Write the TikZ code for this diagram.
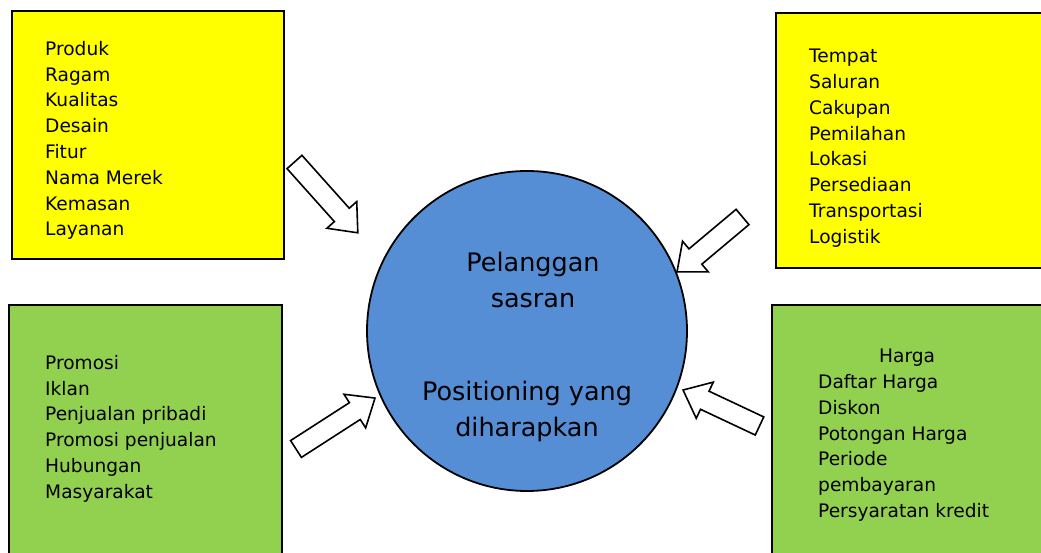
\documentclass[tikz,border=0pt]{standalone}
\usepackage{fontspec}
\setmainfont{DejaVu Sans}
\usetikzlibrary{positioning}
\definecolor{kuning}{HTML}{FFFF00}
\definecolor{hijau}{HTML}{92D050}
\definecolor{biru}{HTML}{558ED5}
\tikzset{
	kotak/.style={draw, line width=1.8pt, anchor=north west, inner sep=0pt},
	isi/.style={anchor=north west, align=left, inner sep=0pt, font=\fontsize{18.6}{25.8}\selectfont},
	blokpanah/.pic={\draw[line width=1.6pt, fill=white, line join=miter] (0,-10) -- ({#1-24},-10) -- ({#1-24},-20) -- (#1,0) -- ({#1-24},20) -- ({#1-24},10) -- (0,10) -- cycle;}
}
\begin{document}
\begin{tikzpicture}[x=1pt, y=1pt]
	\useasboundingbox (0,0) rectangle (1041,553);
	\node [kotak, fill=kuning, minimum width=272pt, minimum height=248pt] (produkbox) at (11,543) {};
	\node [kotak, fill=kuning, minimum width=275pt, minimum height=255pt] (tempatbox) at (775,541) {};
	\node [kotak, fill=hijau, minimum width=273pt, minimum height=260pt] (promosibox) at (8,249) {};
	\node [kotak, fill=hijau, minimum width=280pt, minimum height=260pt] (hargabox) at (771,249) {};
	\node [isi] (produk) at ([xshift=34pt, yshift=-31pt]produkbox.north west)
		{Produk\\Ragam\\Kualitas\\Desain\\Fitur\\Nama Merek\\Kemasan\\Layanan};
	\node [isi] (tempat) at ([xshift=34pt, yshift=-37pt]tempatbox.north west)
		{Tempat\\Saluran\\Cakupan\\Pemilahan\\Lokasi\\Persediaan\\Transportasi\\Logistik};
	\node [isi] (promosi) at ([xshift=37pt, yshift=-51pt]promosibox.north west)
		{Promosi\\Iklan\\Penjualan pribadi\\Promosi penjualan\\Hubungan\\Masyarakat};
	\node [isi] (harga) at ([xshift=47pt, yshift=-45pt]hargabox.north west)
		{\hspace*{61pt}Harga\\Daftar Harga\\Diskon\\Potongan Harga\\Periode\\pembayaran\\Persyaratan kredit};
	\node [circle, draw, line width=1.8pt, fill=biru, minimum size=320pt, inner sep=0pt] (sasaran) at (527,222) {};
	\node [align=center, font=\fontsize{25.5}{36}\selectfont] (pelanggan) at ([xshift=6pt, yshift=50.5pt]sasaran.center) {Pelanggan\\sasran};
	\node [align=center, font=\fontsize{25.5}{36}\selectfont] (positioning) at ([yshift=-80.5pt]sasaran.center) {Positioning yang\\diharapkan};
	\pic [rotate=-48.2] (panahprodukpic) at (294.5,391) {blokpanah=95};
	\pic [rotate=220] (panahtempatpic) at (742.5,336) {blokpanah=85.5};
	\pic [rotate=32.8] (panahpromosipic) at (296,104) {blokpanah=94};
	\pic [rotate=154.8] (panahhargapic) at (759.5,127) {blokpanah=84.5};
\end{tikzpicture}
\end{document}
